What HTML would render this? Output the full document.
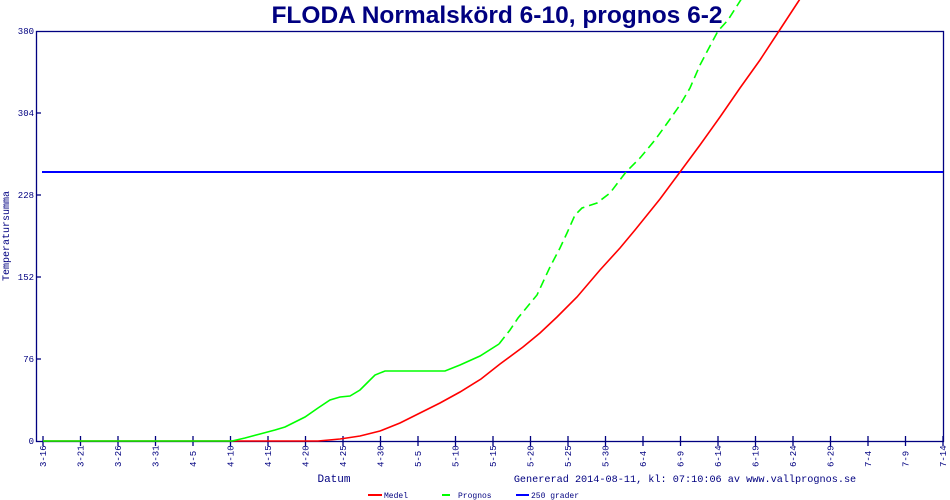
<!DOCTYPE html>
<html><head><meta charset="utf-8"><style>
html,body{margin:0;padding:0;background:#fff;}
svg{display:block;}
text{font-family:"Liberation Mono",monospace;fill:#000080;}
</style></head><body>
<svg width="950" height="500" viewBox="0 0 950 500">
<text x="497" y="23" text-anchor="middle" style="font-family:'Liberation Sans',sans-serif;font-weight:bold;font-size:24.5px;fill:#000080">FLODA Normalskörd 6-10, prognos 6-2</text>
<rect x="36.5" y="31.5" width="907" height="410" fill="none" stroke="#000080" stroke-width="1.3"/>
<g font-size="9" text-anchor="end">
<text x="34" y="34">380</text><text x="34" y="116">304</text><text x="34" y="198">228</text><text x="34" y="280">152</text><text x="34" y="362">76</text><text x="34" y="444">0</text>
</g>
<g stroke="#000080" stroke-width="1.3">
<line x1="36" y1="113" x2="41" y2="113"/><line x1="36" y1="195" x2="41" y2="195"/><line x1="36" y1="277" x2="41" y2="277"/><line x1="36" y1="359" x2="41" y2="359"/>
</g>
<g id="ticks" stroke="#000080" stroke-width="1.3"></g>
<g id="tl" font-size="9"></g>
<text x="9" y="236" font-size="10" text-anchor="middle" transform="rotate(-90 9 236)">Temperatursumma</text>
<text x="334" y="482" font-size="11" text-anchor="middle">Datum</text>
<text x="685" y="482" font-size="10.2" text-anchor="middle">Genererad 2014-08-11, kl: 07:10:06 av www.vallprognos.se</text>
<line x1="368" y1="495" x2="382" y2="495" stroke="#f00" stroke-width="2"/>
<text x="384" y="498" font-size="8">Medel</text>
<line x1="442" y1="495" x2="450" y2="495" stroke="#0f0" stroke-width="2"/>
<text x="458" y="498" font-size="8">Prognos</text>
<line x1="516" y1="495" x2="529" y2="495" stroke="#00f" stroke-width="2"/>
<text x="531" y="498" font-size="8">250 grader</text>
<line x1="42" y1="172" x2="943" y2="172" stroke="#0000ff" stroke-width="2"/>
<polyline fill="none" stroke="#f00" stroke-width="1.6" points="43,441 318,441 340,439 360,436 380,431 400,423 420,413 440,403 460,392 481,379 500,364 523,347 540,333 557,317 577,297 600,270 620,248 635,230 660,199 680,172 700,145 720,117 740,88 760,60 779,31 798,2 800,-1"/>
<polyline fill="none" stroke="#0f0" stroke-width="1.6" points="43,441 232,441 245,438 260,434 275,430 285,427 295,422 305,417 318,408 330,400 340,397 350,396 360,390 368,382 375,375 385,371 445,371 460,365 480,356 499,344"/>
<polyline fill="none" stroke="#0f0" stroke-width="1.6" stroke-dasharray="9,5" points="499,344 510,330 518,318 537,295 550,267 560,248 567,233 575,215 582,208 597,203 610,193 626,172 640,158 655,140 668,122 680,105 690,88 700,65 710,46 718,31 728,20 742,-2"/>
</svg>
<script>
var g=document.getElementById('ticks'),t=document.getElementById('tl');
var labs=['3-16','3-21','3-26','3-31','4-5','4-10','4-15','4-20','4-25','4-30','5-5','5-10','5-15','5-20','5-25','5-30','6-4','6-9','6-14','6-19','6-24','6-29','7-4','7-9','7-14'];
var ns='http://www.w3.org/2000/svg';
labs.forEach(function(l,i){var x=43+i*37.5;
var ln=document.createElementNS(ns,'line');ln.setAttribute('x1',x);ln.setAttribute('x2',x);ln.setAttribute('y1',436);ln.setAttribute('y2',446);g.appendChild(ln);
var tx=document.createElementNS(ns,'text');tx.setAttribute('x',x+3);tx.setAttribute('y',467);tx.setAttribute('transform','rotate(-90 '+(x+3)+' 467)');tx.textContent=l;t.appendChild(tx);});
</script>
</body></html>
